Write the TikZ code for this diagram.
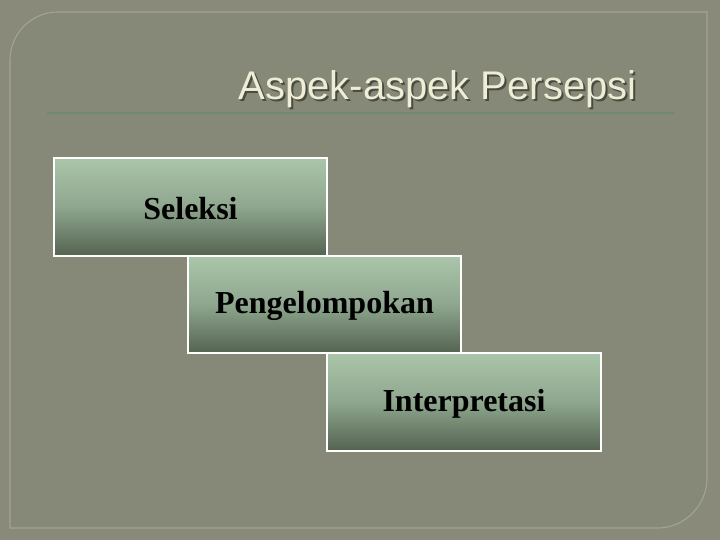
\documentclass[tikz,border=0pt]{standalone}
\usepackage{fontspec}
\setmainfont{Liberation Serif}
\newfontfamily\titlefont{Liberation Sans}
\definecolor{outerbg}{HTML}{8A8A7A}
\definecolor{panelbg}{HTML}{868878}
\definecolor{panelline}{HTML}{A3A592}
\definecolor{titlecol}{HTML}{EEEED6}
\definecolor{shadowcol}{HTML}{4A4A40}
\definecolor{rulecol}{HTML}{6F8A6E}
\definecolor{boxtop}{HTML}{AAC6AA}
\definecolor{boxmid}{HTML}{8EA68E}
\definecolor{boxbot}{HTML}{546350}
\tikzset{
  stepbox/.style={draw=white, line width=1pt, top color=boxtop, bottom color=boxbot, middle color=boxmid},
  steptext/.style={font=\fontsize{24}{28}\selectfont\bfseries, text=black},
}
\begin{document}
\begin{tikzpicture}[x=0.75pt,y=-0.75pt]
\useasboundingbox (0,0) rectangle (720,540);
\fill[outerbg] (0,0) rectangle (720,540);
% panel
\draw[panelline, fill=panelbg, line width=0.8pt]
  (10,60) .. controls (10,33.5) and (31.5,12) .. (58,12) -- (707,12) -- (707,478)
  .. controls (707,505.6) and (684.6,528) .. (657,528) -- (10,528) -- cycle;
% title
\node[font=\titlefont\fontsize{30}{36}\selectfont, text=shadowcol, anchor=base] at (439.5,101.5) {Aspek-aspek Persepsi};
\node[font=\titlefont\fontsize{30}{36}\selectfont, text=titlecol, anchor=base] (title) at (437.5,99.5) {Aspek-aspek Persepsi};
\draw[rulecol, line width=2pt] (47,113) -- (675,113);
% boxes
\draw[stepbox] (54,158) rectangle (327,256);
\node[steptext] (s1) at (190.5,208.5) {Seleksi};
\draw[stepbox] (188,256) rectangle (461,353);
\node[steptext] (s2) at (324.5,305.5) {Pengelompokan};
\draw[stepbox] (327,353) rectangle (601,451);
\node[steptext] (s3) at (464,403.5) {Interpretasi};
\end{tikzpicture}
\end{document}
